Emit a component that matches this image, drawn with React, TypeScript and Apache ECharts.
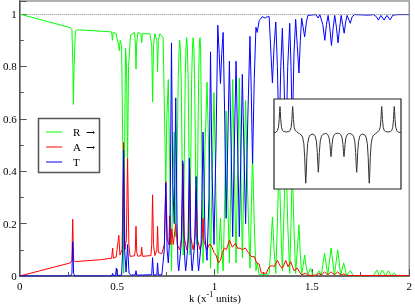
import React, { useEffect, useRef } from 'react';
import * as echarts from 'echarts';

// wavenumber k (x^-1 units) vs coefficient
const reflect: number[][] = [
  [0, 1.0], [0.2602, 0.948], [0.2679, 0.94], [0.273, 0.8], [0.2755, 0.655], [0.2791, 0.8], [0.2857, 0.935], [0.2959, 0.94],
  [0.4133, 0.935], [0.4719, 0.932], [0.476, 0.9], [0.4796, 0.93], [0.4949, 0.925], [0.5077, 0.88], [0.5112, 0.86], [0.5153, 0.9],
  [0.523, 0.88], [0.5306, 0.4], [0.5337, 0.01], [0.5372, 0.4], [0.5434, 0.87], [0.5485, 0.8], [0.5536, 0.43], [0.5587, 0.8],
  [0.5689, 0.92], [0.5893, 0.93], [0.5944, 0.88], [0.5969, 0.79], [0.6005, 0.89], [0.6071, 0.93], [0.6224, 0.925], [0.626, 0.89],
  [0.6301, 0.925], [0.6684, 0.925], [0.6776, 0.88], [0.6821, 0.665], [0.6867, 0.88], [0.6939, 0.925], [0.7041, 0.9], [0.7077, 0.78],
  [0.7117, 0.9], [0.7194, 0.925], [0.7362, 0.91], [0.7449, 0.55], [0.75, 0.355], [0.7551, 0.6], [0.7628, 0.75], [0.7704, 0.4],
  [0.7791, 0.02], [0.7857, 0.35], [0.7934, 0.55], [0.801, 0.15], [0.8087, 0.5], [0.8138, 0.75], [0.8179, 0.86], [0.8214, 0.9],
  [0.825, 0.86], [0.8291, 0.75], [0.8342, 0.4], [0.8393, 0.08], [0.8444, 0.4], [0.8495, 0.75], [0.8536, 0.87], [0.8571, 0.91],
  [0.8607, 0.87], [0.8648, 0.75], [0.8699, 0.4], [0.874, 0.08], [0.8776, 0.4], [0.8827, 0.75], [0.8867, 0.87], [0.8903, 0.91],
  [0.8939, 0.87], [0.898, 0.75], [0.9031, 0.4], [0.9082, 0.12], [0.9133, 0.4], [0.9184, 0.75], [0.9219, 0.87], [0.9255, 0.91],
  [0.9286, 0.87], [0.9337, 0.55], [0.9413, 0.05], [0.9515, 0.5], [0.9617, 0.74], [0.9694, 0.5], [0.9796, 0.03], [0.9888, 0.4],
  [0.9974, 0.7], [1.0077, 0.3], [1.0168, 0.01], [1.024, 0.12], [1.0306, 0.22], [1.0372, 0.1], [1.0444, 0.02], [1.0526, 0.3],
  [1.0597, 0.63], [1.0679, 0.3], [1.0765, 0.05], [1.0852, 0.4], [1.0934, 0.75], [1.102, 0.4], [1.1107, 0.05], [1.1189, 0.4],
  [1.1276, 0.755], [1.1352, 0.4], [1.1429, 0.07], [1.1505, 0.35], [1.1597, 0.67], [1.1709, 0.3], [1.1821, 0.03], [1.1888, 0.25],
  [1.1954, 0.47], [1.2041, 0.2], [1.2128, 0.02], [1.2194, 0.05], [1.2296, 0.005], [1.2602, 0.005], [1.2806, 0.01], [1.2898, 0.12],
  [1.2974, 0.225], [1.3061, 0.1], [1.3148, 0.01], [1.323, 0.2], [1.3316, 0.45], [1.3403, 0.2], [1.3485, 0.02], [1.3571, 0.25],
  [1.3658, 0.5], [1.376, 0.2], [1.3862, 0.01], [1.3929, 0.2], [1.3995, 0.42], [1.4082, 0.18], [1.4168, 0.01], [1.425, 0.1],
  [1.4337, 0.195], [1.4408, 0.08], [1.4474, 0.005], [1.4551, 0.04], [1.4628, 0.08], [1.4719, 0.03], [1.4796, 0.005], [1.4934, 0.03],
  [1.5051, 0.003], [1.5204, 0.002], [1.5357, 0.02], [1.5485, 0.003], [1.5648, 0.087], [1.5816, 0.003], [1.5985, 0.107], [1.6158, 0.003],
  [1.6327, 0.1], [1.648, 0.003], [1.6633, 0.05], [1.6786, 0.002], [1.6974, 0.02], [1.7143, 0.001], [1.8163, 0.001], [1.8332, 0.023],
  [1.8469, 0.001], [1.8622, 0.023], [1.8776, 0.001], [1.8929, 0.02], [1.9082, 0.001], [1.9235, 0.012], [1.9337, 0.001], [2.0, 0.001],
];

const absorb: number[][] = [
  [0, 0], [0.2602, 0.05], [0.2679, 0.06], [0.2719, 0.217], [0.2765, 0.06], [0.2857, 0.055], [0.4133, 0.062], [0.4719, 0.068],
  [0.477, 0.107], [0.4811, 0.068], [0.4949, 0.072], [0.5087, 0.155], [0.5143, 0.08], [0.5255, 0.1], [0.5332, 0.51], [0.5398, 0.1],
  [0.5474, 0.14], [0.5536, 0.45], [0.5602, 0.12], [0.5663, 0.075], [0.5893, 0.077], [0.5934, 0.1], [0.5969, 0.19], [0.601, 0.09],
  [0.6071, 0.075], [0.6224, 0.078], [0.626, 0.11], [0.6301, 0.075], [0.6735, 0.078], [0.6776, 0.12], [0.6821, 0.31], [0.6867, 0.12],
  [0.6939, 0.078], [0.7041, 0.1], [0.7077, 0.19], [0.7117, 0.09], [0.7296, 0.085], [0.7423, 0.12], [0.75, 0.36], [0.7577, 0.14],
  [0.7653, 0.12], [0.7704, 0.23], [0.7755, 0.12], [0.7806, 0.18], [0.7883, 0.12], [0.801, 0.2], [0.8087, 0.12], [0.8214, 0.1],
  [0.8316, 0.15], [0.8383, 0.43], [0.8444, 0.15], [0.8571, 0.1], [0.8673, 0.15], [0.8724, 0.41], [0.8776, 0.15], [0.8903, 0.1],
  [0.9005, 0.15], [0.9066, 0.33], [0.9122, 0.14], [0.9255, 0.1], [0.9362, 0.14], [0.9413, 0.22], [0.9464, 0.13], [0.9617, 0.1],
  [0.9719, 0.12], [0.9796, 0.12], [0.9872, 0.11], [0.9974, 0.09], [1.0077, 0.08], [1.0204, 0.05], [1.0306, 0.06], [1.0408, 0.09],
  [1.051, 0.107], [1.0612, 0.1], [1.0765, 0.137], [1.0918, 0.11], [1.1071, 0.125], [1.1199, 0.105], [1.1311, 0.107], [1.1429, 0.1],
  [1.1582, 0.107], [1.1735, 0.09], [1.1888, 0.074], [1.2041, 0.074], [1.2168, 0.05], [1.2296, 0.045], [1.2398, 0.012], [1.2653, 0.01],
  [1.2806, 0.035], [1.2959, 0.04], [1.3061, 0.035], [1.323, 0.06], [1.3393, 0.035], [1.3495, 0.03], [1.3658, 0.06], [1.3776, 0.035],
  [1.3913, 0.055], [1.4082, 0.02], [1.425, 0.03], [1.4388, 0.012], [1.4474, 0.005], [1.4679, 0.01], [1.4796, 0.003], [1.5255, 0.003],
  [1.5357, 0.01], [1.5485, 0.003], [1.5648, 0.016], [1.5816, 0.004], [1.5985, 0.016], [1.6158, 0.004], [1.6327, 0.016], [1.648, 0.003],
  [1.6633, 0.008], [1.6786, 0.002], [2.0, 0.002],
];

const transmit: number[][] = [
  [0, 0], [0.2602, 0], [0.2679, 0.01], [0.2719, 0.131], [0.2765, 0.01], [0.2832, 0], [0.4719, 0], [0.477, 0.01],
  [0.4821, 0], [0.4923, 0.002], [0.4959, 0.03], [0.5, 0.002], [0.523, 0.003], [0.5286, 0.1], [0.5332, 0.48], [0.5383, 0.1],
  [0.5459, 0.015], [0.5536, 0.12], [0.5612, 0.01], [0.5714, 0.003], [0.5934, 0.005], [0.5969, 0.02], [0.601, 0.003], [0.6776, 0.005],
  [0.6821, 0.07], [0.6867, 0.004], [0.7041, 0.004], [0.7077, 0.05], [0.7117, 0.004], [0.7296, 0.005], [0.7423, 0.1], [0.75, 0.355],
  [0.7566, 0.1], [0.7628, 0.05], [0.7704, 0.15], [0.773, 0.3], [0.7791, 0.89], [0.7857, 0.35], [0.7934, 0.2], [0.801, 0.68],
  [0.8077, 0.2], [0.8122, 0.05], [0.8163, 0.02], [0.8204, 0.05], [0.8291, 0.12], [0.8367, 0.44], [0.8444, 0.12], [0.8485, 0.05],
  [0.852, 0.02], [0.8561, 0.05], [0.8638, 0.12], [0.8709, 0.45], [0.8786, 0.12], [0.8816, 0.05], [0.8852, 0.02], [0.8893, 0.05],
  [0.898, 0.12], [0.9056, 0.38], [0.9122, 0.12], [0.9148, 0.05], [0.9184, 0.02], [0.9224, 0.05], [0.9311, 0.12], [0.9413, 0.55],
  [0.9515, 0.15], [0.9617, 0.06], [0.9719, 0.3], [0.9796, 0.856], [0.9872, 0.4], [0.9974, 0.12], [1.0077, 0.5], [1.0168, 0.958],
  [1.024, 0.85], [1.0306, 0.735], [1.0372, 0.85], [1.0444, 0.93], [1.0526, 0.6], [1.0597, 0.22], [1.0679, 0.5], [1.0765, 0.82],
  [1.0852, 0.5], [1.0934, 0.15], [1.102, 0.5], [1.1107, 0.82], [1.1189, 0.5], [1.1276, 0.15], [1.1352, 0.45], [1.1429, 0.77],
  [1.1505, 0.5], [1.1597, 0.2], [1.1709, 0.6], [1.1821, 0.915], [1.1888, 0.7], [1.1954, 0.43], [1.2041, 0.75], [1.2128, 0.95],
  [1.2194, 0.93], [1.2296, 0.975], [1.2449, 0.99], [1.2602, 0.985], [1.2704, 0.99], [1.2806, 0.99], [1.2898, 0.85], [1.2974, 0.737],
  [1.3061, 0.88], [1.3148, 0.97], [1.323, 0.8], [1.3316, 0.5], [1.3403, 0.8], [1.3485, 0.946], [1.3571, 0.75], [1.3658, 0.45],
  [1.376, 0.8], [1.3862, 0.965], [1.3929, 0.8], [1.3995, 0.55], [1.4082, 0.85], [1.4168, 0.98], [1.425, 0.88], [1.4337, 0.775],
  [1.4408, 0.9], [1.4474, 0.985], [1.4551, 0.95], [1.4628, 0.913], [1.4719, 0.97], [1.4796, 0.995], [1.5204, 0.998], [1.5321, 0.985],
  [1.5408, 0.998], [1.5561, 0.96], [1.5663, 0.9], [1.575, 0.96], [1.5832, 0.995], [1.5918, 0.95], [1.6005, 0.88], [1.6097, 0.95],
  [1.6173, 0.995], [1.626, 0.95], [1.6342, 0.89], [1.6429, 0.95], [1.6505, 0.995], [1.6582, 0.96], [1.6658, 0.927], [1.6735, 0.97],
  [1.6811, 0.995], [1.6913, 0.975], [1.6974, 0.965], [1.7066, 0.99], [1.7194, 0.998], [1.7908, 0.996], [1.8163, 0.998], [1.8316, 0.99],
  [1.8418, 0.977], [1.8546, 0.995], [1.8709, 0.977], [1.8852, 0.995], [1.9015, 0.978], [1.9158, 0.996], [1.9439, 0.998], [2.0, 0.998],
];

// inset profile (arbitrary units, box-normalised)
const insetCurve: number[][] = [
  [0, 0.628], [0.015, 0.63], [0.027, 0.65], [0.035, 0.686], [0.041, 0.772], [0.044, 0.859], [0.047, 0.917], [0.05, 0.859],
  [0.053, 0.772], [0.059, 0.686], [0.067, 0.65], [0.077, 0.638], [0.097, 0.634], [0.117, 0.638], [0.127, 0.65], [0.135, 0.686],
  [0.141, 0.772], [0.144, 0.859], [0.147, 0.917], [0.15, 0.859], [0.153, 0.772], [0.159, 0.686], [0.167, 0.65], [0.177, 0.638],
  [0.2, 0.615],
  [0.215, 0.6], [0.225, 0.576], [0.235, 0.504], [0.242, 0.346], [0.246, 0.177], [0.25, 0.064], [0.254, 0.177], [0.258, 0.346],
  [0.265, 0.504], [0.275, 0.576], [0.285, 0.6], [0.3, 0.61],
  [0.314, 0.606], [0.324, 0.587], [0.334, 0.531], [0.341, 0.407], [0.345, 0.274], [0.349, 0.186], [0.353, 0.274], [0.357, 0.407],
  [0.364, 0.531], [0.374, 0.587], [0.384, 0.606], [0.399, 0.615],
  [0.414, 0.615], [0.424, 0.603], [0.434, 0.569], [0.441, 0.494], [0.445, 0.414], [0.449, 0.36], [0.453, 0.414], [0.457, 0.494],
  [0.464, 0.569], [0.474, 0.603], [0.484, 0.615], [0.5, 0.62],
  [0.516, 0.615], [0.526, 0.603], [0.536, 0.569], [0.543, 0.494], [0.547, 0.414], [0.551, 0.36], [0.555, 0.414], [0.559, 0.494],
  [0.566, 0.569], [0.576, 0.603], [0.586, 0.615], [0.601, 0.615],
  [0.616, 0.606], [0.626, 0.587], [0.636, 0.531], [0.643, 0.407], [0.647, 0.274], [0.651, 0.186], [0.655, 0.274], [0.659, 0.407],
  [0.666, 0.531], [0.676, 0.587], [0.686, 0.606], [0.7, 0.61],
  [0.715, 0.6], [0.725, 0.576], [0.735, 0.504], [0.742, 0.346], [0.746, 0.177], [0.75, 0.064], [0.754, 0.177], [0.758, 0.346],
  [0.765, 0.504], [0.775, 0.576], [0.785, 0.6], [0.8, 0.615],
  [0.818, 0.638], [0.828, 0.65], [0.836, 0.686], [0.842, 0.772], [0.845, 0.859], [0.848, 0.917], [0.851, 0.859], [0.854, 0.772],
  [0.86, 0.686], [0.868, 0.65], [0.878, 0.638], [0.898, 0.634], [0.917, 0.638], [0.927, 0.65], [0.935, 0.686], [0.941, 0.772],
  [0.944, 0.859], [0.947, 0.917], [0.95, 0.859], [0.953, 0.772], [0.959, 0.686], [0.967, 0.65], [0.98, 0.63], [1.0, 0.628],
];

const legendNames = ['R', 'A', 'T'];
const legendArrows = ['→', '→', ''];
const seriesColors = ['#00ff00', '#ff0000', '#0000ff'];

export default function App() {
  const ref = useRef<HTMLDivElement>(null);
  useEffect(() => {
    const chart = echarts.init(ref.current as HTMLDivElement, null, { renderer: 'svg' });
    const font = "'Liberation Serif', 'Times New Roman', serif";
    const legendEls: any[] = [
      {
        type: 'rect',
        shape: { x: 38.5, y: 118.5, width: 61, height: 54 },
        style: { fill: '#fff', stroke: '#555', lineWidth: 1.5 },
      },
    ];
    legendNames.forEach((n, i) => {
      const y = 132 + i * 15;
      legendEls.push({
        type: 'line',
        shape: { x1: 46, y1: y, x2: 62, y2: y },
        style: { stroke: seriesColors[i], lineWidth: 1 },
      });
      legendEls.push({
        type: 'text',
        x: 73,
        y: y,
        style: { text: n, fill: '#000', font: `11px ${font}`, textAlign: 'left', textVerticalAlign: 'middle', align: 'left', verticalAlign: 'middle' },
      });
      if (legendArrows[i]) {
        legendEls.push({
          type: 'text',
          x: 86,
          y: y,
          style: { text: legendArrows[i], fill: '#000', font: "11px 'DejaVu Serif', serif", textAlign: 'left', textVerticalAlign: 'middle', align: 'left', verticalAlign: 'middle' },
        });
      }
    });
    legendEls.push({
      type: 'text',
      x: 215,
      y: 298,
      style: {
        text: '{a|k (x}{s|-1}{a| units)}',
        textAlign: 'center',
        textVerticalAlign: 'middle',
        align: 'center',
        verticalAlign: 'middle',
        rich: {
          a: { fontSize: 11, fontFamily: font, fill: '#000', color: '#000', lineHeight: 16 },
          s: { fontSize: 8, fontFamily: font, fill: '#000', color: '#000', lineHeight: 8, verticalAlign: 'top' },
        },
      },
    });

    const axisColor = '#555';
    chart.setOption({
      animation: false,
      grid: [
        { left: 19, top: 1, width: 392, height: 275, show: true, borderColor: '#999', borderWidth: 1.5 },
        { left: 274, top: 99, width: 127, height: 90, show: true, backgroundColor: '#fff', borderColor: '#222', borderWidth: 1.2, z: 50 },
      ],
      xAxis: [
        {
          type: 'value', gridIndex: 0, min: 0, max: 2, interval: 0.5,
          axisLine: { show: true, onZero: false, lineStyle: { color: axisColor, width: 1.5 } },
          axisTick: { show: true, inside: true, length: 7, lineStyle: { color: axisColor } },
          minorTick: { show: true, splitNumber: 2, length: 4, lineStyle: { color: axisColor } },
          splitLine: { show: false },
          axisLabel: { color: '#000', fontFamily: font, fontSize: 11, margin: 4, formatter: (v: number) => String(v) },
        },
        { type: 'value', gridIndex: 1, min: 0, max: 1, show: false },
      ],
      yAxis: [
        {
          type: 'value', gridIndex: 0, min: 0, max: 1.05, interval: 0.2,
          axisLine: { show: true, onZero: false, lineStyle: { color: axisColor, width: 1.5 } },
          axisTick: { show: true, inside: true, length: 7, lineStyle: { color: axisColor } },
          minorTick: { show: true, splitNumber: 2, length: 4, lineStyle: { color: axisColor } },
          splitLine: { show: false },
          axisLabel: {
            color: '#000', fontFamily: font, fontSize: 11, margin: 3,
            formatter: (v: number) => (Math.abs(v * 5 - Math.round(v * 5)) > 1e-6 ? '' : String(Math.round(v * 10) / 10)),
          },
        },
        { type: 'value', gridIndex: 1, min: 0, max: 1, show: false },
      ],
      graphic: legendEls,
      series: [
        {
          type: 'line', name: 'R', xAxisIndex: 0, yAxisIndex: 0, data: reflect, symbol: 'none', z: 2,
          lineStyle: { color: seriesColors[0], width: 1 }, itemStyle: { color: seriesColors[0] },
          markLine: {
            silent: true, symbol: 'none', label: { show: false },
            lineStyle: { type: 'dotted', color: '#888', width: 1 },
            data: [{ yAxis: 1 }],
          },
        },
        {
          type: 'line', name: 'A', xAxisIndex: 0, yAxisIndex: 0, data: absorb, symbol: 'none', z: 3,
          lineStyle: { color: seriesColors[1], width: 1 }, itemStyle: { color: seriesColors[1] },
        },
        {
          type: 'line', name: 'T', xAxisIndex: 0, yAxisIndex: 0, data: transmit, symbol: 'none', z: 4,
          lineStyle: { color: seriesColors[2], width: 1 }, itemStyle: { color: seriesColors[2] },
        },
        {
          type: 'line', name: 'inset', xAxisIndex: 1, yAxisIndex: 1, data: insetCurve, symbol: 'none', z: 60,
          lineStyle: { color: '#333', width: 1 }, itemStyle: { color: '#333' },
        },
      ],
    });
    return () => chart.dispose();
  }, []);
  return <div ref={ref} style={{ position: 'fixed', left: 0, top: 0, width: 415, height: 307 }} />;
}
